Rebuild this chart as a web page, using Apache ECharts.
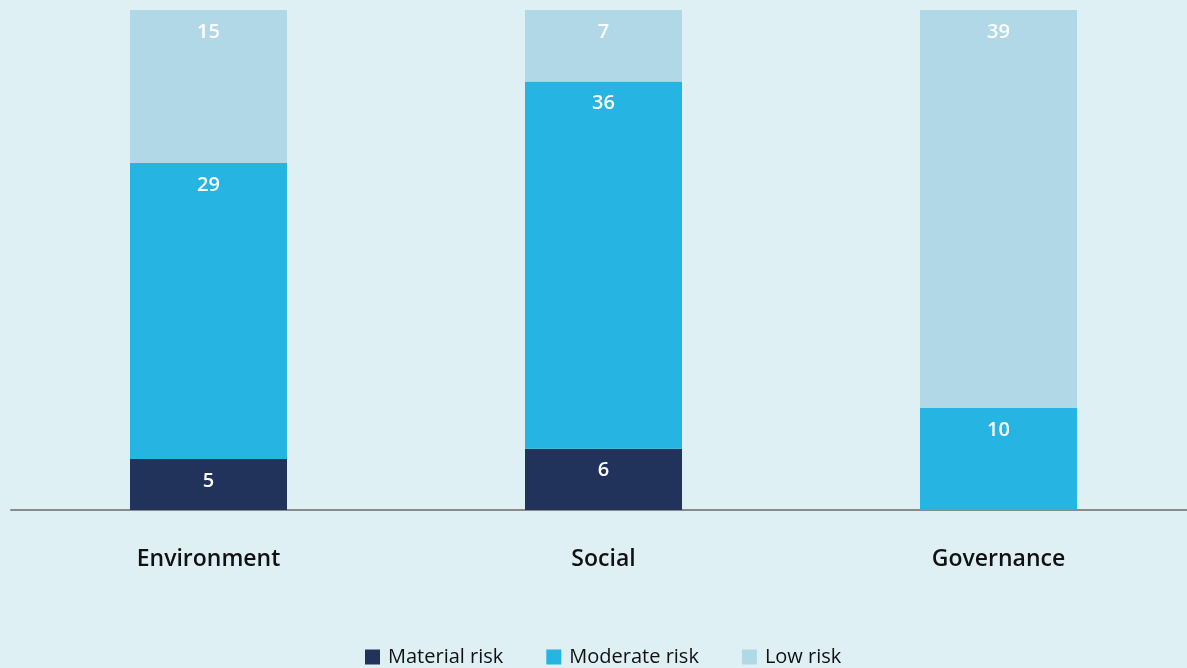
<!DOCTYPE html>
<html><head><meta charset="utf-8">
<script src="https://cdn.jsdelivr.net/npm/echarts@6/dist/echarts.min.js"></script>
<style>html,body{margin:0;padding:0;background:#dff0f5;overflow:hidden;}#c{width:1196px;height:668px;}</style>
</head><body><div id="c"></div>
<script>
const categories = ['Environment', 'Social', 'Governance'];
const materialRisk = [5, 6, null];
const moderateRisk = [29, 36, 10];
const lowRisk = [15, 7, 39];
const seriesNames = ['Material risk', 'Moderate risk', 'Low risk'];
const colors = ['#21325b', '#26b4e2', '#b1d8e6'];

const font = '"Open Sans", Lato, sans-serif';
const chart = echarts.init(document.getElementById('c'));
function mk(name, data, color) {
  return {
    name, type: 'bar', stack: 'a', data, barWidth: 157,
    itemStyle: { color },
    label: { show: true, position: 'insideTop', distance: 12, color: '#fff',
      fontSize: 20, fontWeight: 600, fontFamily: font },
    emphasis: { disabled: true }
  };
}
chart.setOption({
  backgroundColor: '#dff0f5',
  animation: false,
  grid: { left: 11, top: 10, right: 0, height: 500, containLabel: false },
  xAxis: {
    type: 'category', data: categories,
    axisLine: { lineStyle: { color: '#8a8a8a', width: 2 } },
    axisTick: { show: false },
    axisLabel: { color: '#111', fontSize: 23, fontWeight: 600, fontFamily: font, margin: 38 }
  },
  yAxis: { type: 'value', min: 0, max: 49, show: false, splitLine: { show: false } },
  legend: {
    top: 642, left: 360, itemWidth: 15, itemHeight: 15, itemGap: 43,
    icon: 'rect',
    textStyle: { color: '#111', fontSize: 20, fontFamily: font, padding: [0, 0, 0, 3] },
    data: seriesNames
  },
  series: [
    mk(seriesNames[0], materialRisk, colors[0]),
    mk(seriesNames[1], moderateRisk, colors[1]),
    mk(seriesNames[2], lowRisk, colors[2])
  ]
});
</script></body></html>
